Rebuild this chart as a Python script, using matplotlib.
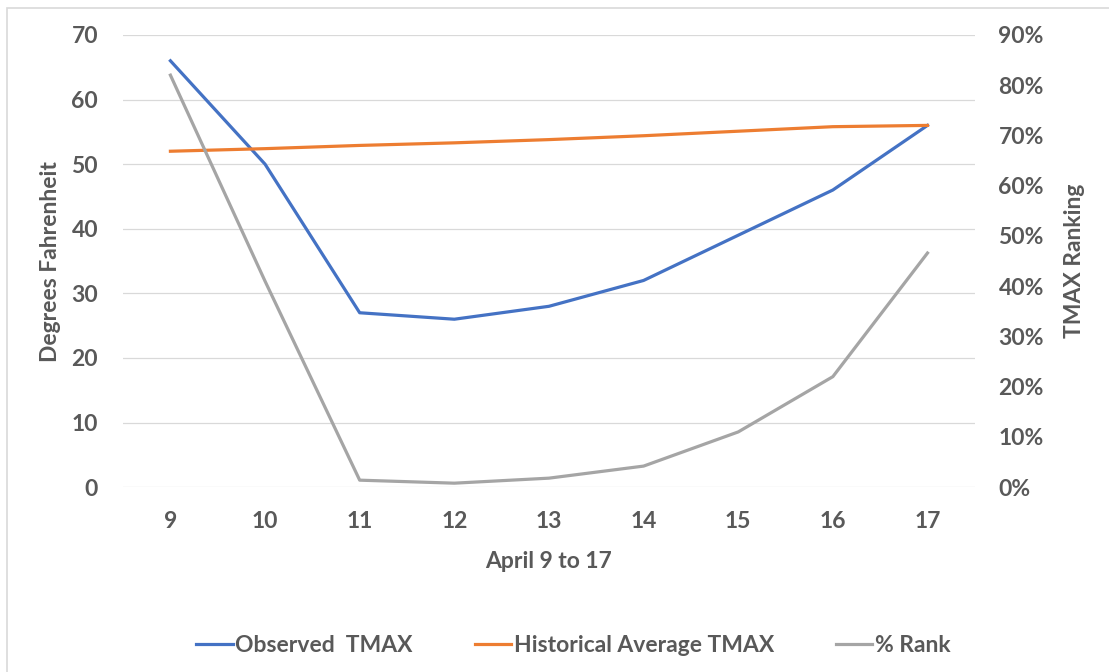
import matplotlib.pyplot as plt
from matplotlib.lines import Line2D
from matplotlib.ticker import PercentFormatter

days = [9, 10, 11, 12, 13, 14, 15, 16, 17]
observed_tmax = [66, 50, 27, 26, 28, 32, 39, 46, 56]
historical_tmax = [52.0, 52.4, 52.9, 53.3, 53.8, 54.4, 55.1, 55.8, 56.0]
pct_rank = [82, 41, 1.4, 0.8, 1.8, 4.2, 11, 22, 46.6]

BLUE = '#4472C4'
ORANGE = '#ED7D31'
GRAY = '#A5A5A5'
TEXT = '#595959'
FS = 16.5

plt.rcParams['font.family'] = ['Lato', 'DejaVu Sans']
plt.rcParams['font.weight'] = 'bold'
plt.rcParams['axes.labelweight'] = 'bold'

fig = plt.figure(figsize=(11.09, 6.72), dpi=100)
ax = fig.add_axes([0.111, 0.275, 0.768, 0.673])
ax2 = ax.twinx()

x = list(range(len(days)))
ax.plot(x, observed_tmax, color=BLUE, lw=2.3, solid_joinstyle='round')
ax.plot(x, historical_tmax, color=ORANGE, lw=2.3, solid_joinstyle='round')
ax2.plot(x, pct_rank, color=GRAY, lw=2.3, solid_joinstyle='round')

ax.set_xlim(-0.5, len(days) - 0.5)
ax.set_ylim(0, 70)
ax.set_yticks(range(0, 71, 10))
ax2.set_ylim(0, 90)
ax2.set_yticks(range(0, 91, 10))
ax2.yaxis.set_major_formatter(PercentFormatter(decimals=0))
ax.set_xticks(x)
ax.set_xticklabels([str(d) for d in days])

ax.grid(axis='y', color='#D9D9D9', lw=0.9)
ax.set_axisbelow(True)
for a in (ax, ax2):
    for s in a.spines.values():
        s.set_visible(False)
    a.tick_params(length=0, labelsize=FS, labelcolor=TEXT)
    for t in a.get_xticklabels() + a.get_yticklabels():
        t.set_fontweight('bold')
ax.tick_params(axis='x', pad=17)
ax.tick_params(axis='y', pad=18)
ax2.tick_params(axis='y', pad=17)

ax.set_xlabel('April 9 to 17', fontsize=FS, color=TEXT, labelpad=14, fontweight='bold')
ax.set_ylabel('Degrees Fahrenheit', fontsize=FS, color=TEXT, fontweight='bold')
ax.yaxis.set_label_coords(-0.073, 0.5)
ax2.set_ylabel('TMAX Ranking', fontsize=FS, color=TEXT, fontweight='bold')
ax2.yaxis.set_label_coords(1.105, 0.5)

handles = [Line2D([], [], color=BLUE, lw=2.3),
           Line2D([], [], color=ORANGE, lw=2.3),
           Line2D([], [], color=GRAY, lw=2.3)]
labels = ['Observed  TMAX', 'Historical Average TMAX', '% Rank']
leg = fig.legend(handles, labels, loc='center', bbox_to_anchor=(0.517, 0.04), ncol=3,
                 frameon=False, prop={'size': FS, 'weight': 'bold'},
                 handlelength=1.6, handletextpad=0.1, columnspacing=2.7)
for t in leg.get_texts():
    t.set_color(TEXT)

# chart frame
fig.add_artist(plt.Rectangle((7 / 1109, -0.1), 1.2, 1.1 - 8 / 672, transform=fig.transFigure,
                             fill=False, edgecolor='#D9D9D9', lw=1.2))

fig.savefig('out.png', dpi=100)
